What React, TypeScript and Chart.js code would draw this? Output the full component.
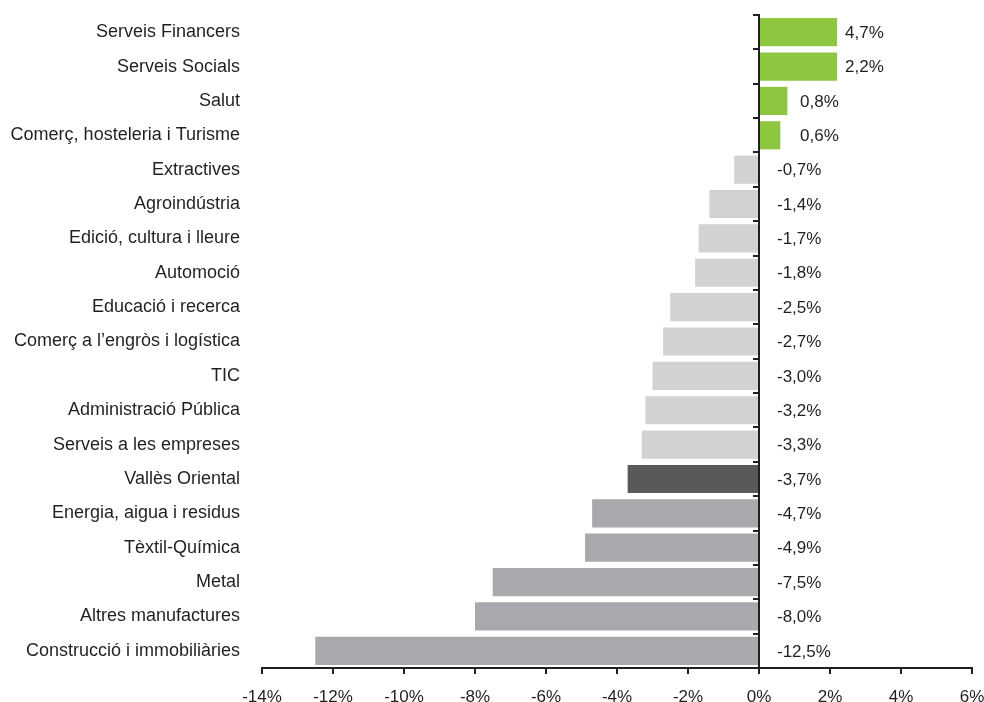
import React, { useEffect, useRef } from "react";
import { Chart, registerables } from "chart.js";

Chart.register(...registerables);

const categories = [
  "Serveis Financers",
  "Serveis Socials",
  "Salut",
  "Comerç, hosteleria i Turisme",
  "Extractives",
  "Agroindústria",
  "Edició, cultura i lleure",
  "Automoció",
  "Educació i recerca",
  "Comerç a l’engròs i logística",
  "TIC",
  "Administració Pública",
  "Serveis a les empreses",
  "Vallès Oriental",
  "Energia, aigua i residus",
  "Tèxtil-Química",
  "Metal",
  "Altres manufactures",
  "Construcció i immobiliàries",
];

// bar lengths as drawn in the reference
const barValues = [2.2, 2.2, 0.8, 0.6, -0.7, -1.4, -1.7, -1.8, -2.5, -2.7, -3.0, -3.2, -3.3, -3.7, -4.7, -4.9, -7.5, -8.0, -12.5];

// data labels as printed in the reference
const valueLabels = [
  "4,7%", "2,2%", "0,8%", "0,6%", "-0,7%", "-1,4%", "-1,7%", "-1,8%", "-2,5%", "-2,7%",
  "-3,0%", "-3,2%", "-3,3%", "-3,7%", "-4,7%", "-4,9%", "-7,5%", "-8,0%", "-12,5%",
];

const barGroups = [
  "pos", "pos", "pos", "pos",
  "light", "light", "light", "light", "light", "light", "light", "light", "light",
  "total",
  "mid", "mid", "mid", "mid", "mid",
];

const xMin = -14;
const xMax = 6;
const xStep = 2;

const GROUP_COLORS: Record<string, string> = {
  pos: "#8dc63f",
  light: "#d1d2d4",
  total: "#58595b",
  mid: "#a7a9ac",
};
const TEXT = "#231f20";
const AXIS = "#231f20";
const FONT = '"Liberation Sans", Arial, sans-serif';

const valueLabelPlugin = {
  id: "valueLabels",
  afterDatasetsDraw(chart: any) {
    const { ctx } = chart;
    const meta = chart.getDatasetMeta(0);
    const zero = chart.scales.x.getPixelForValue(0);
    ctx.save();
    ctx.font = `17px ${FONT}`;
    ctx.fillStyle = TEXT;
    ctx.textAlign = "left";
    ctx.textBaseline = "middle";
    meta.data.forEach((bar: any, i: number) => {
      const v = barValues[i];
      const x = v >= 0 ? Math.max(bar.x + 8, zero + 41) : zero + 18;
      ctx.fillText(valueLabels[i], x, bar.y + 1);
    });
    ctx.restore();
  },
};

export default function App() {
  const canvasRef = useRef<HTMLCanvasElement | null>(null);

  useEffect(() => {
    if (!canvasRef.current) return;
    const chart = new Chart(canvasRef.current, {
      type: "bar",
      data: {
        labels: categories,
        datasets: [
          {
            data: barValues,
            backgroundColor: barGroups.map((g) => GROUP_COLORS[g]),
            borderWidth: 0,
            barPercentage: 0.82,
            categoryPercentage: 1,
          },
        ],
      },
      options: {
        indexAxis: "y",
        responsive: false,
        animation: false,
        layout: { padding: { top: 15, right: 12, bottom: 0, left: 0 } },
        plugins: {
          legend: { display: false },
          tooltip: { enabled: false },
        },
        scales: {
          x: {
            type: "linear",
            min: xMin,
            max: xMax,
            afterFit(scale: any) {
              scale.height = 34;
              scale.paddingLeft = 0;
              scale.paddingRight = 0;
            },
            ticks: {
              stepSize: xStep,
              color: TEXT,
              font: { family: FONT, size: 17 },
              padding: 13,
              maxRotation: 0,
              callback: (v: any) => `${v}%`,
            },
            grid: {
              display: true,
              drawOnChartArea: false,
              drawTicks: true,
              tickLength: 6,
              color: AXIS,
              lineWidth: 2,
            },
            border: { display: true, color: AXIS, width: 2 },
          },
          y: {
            type: "category",
            afterFit(scale: any) {
              scale.width = 262;
              scale.paddingTop = 0;
              scale.paddingBottom = 0;
            },
            ticks: {
              color: TEXT,
              font: { family: FONT, size: 18 },
              padding: 22,
              autoSkip: false,
            },
            grid: { display: false, drawTicks: false },
            border: { display: false },
          },
          y2: {
            type: "category",
            axis: "y",
            labels: categories,
            position: { x: 0 },
            offset: true,
            afterFit(scale: any) {
              scale.paddingTop = 0;
              scale.paddingBottom = 0;
            },
            ticks: { display: false },
            grid: {
              display: true,
              offset: true,
              drawOnChartArea: false,
              drawTicks: true,
              tickLength: 5,
              color: AXIS,
              lineWidth: 2,
            },
            border: { display: true, color: AXIS, width: 2 },
          },
        } as any,
      },
      plugins: [valueLabelPlugin],
    });
    return () => chart.destroy();
  }, []);

  return (
    <div style={{ position: "absolute", left: 0, top: 0, width: 984, height: 702, background: "#fff" }}>
      <canvas ref={canvasRef} width={984} height={702} style={{ display: "block" }} />
    </div>
  );
}
